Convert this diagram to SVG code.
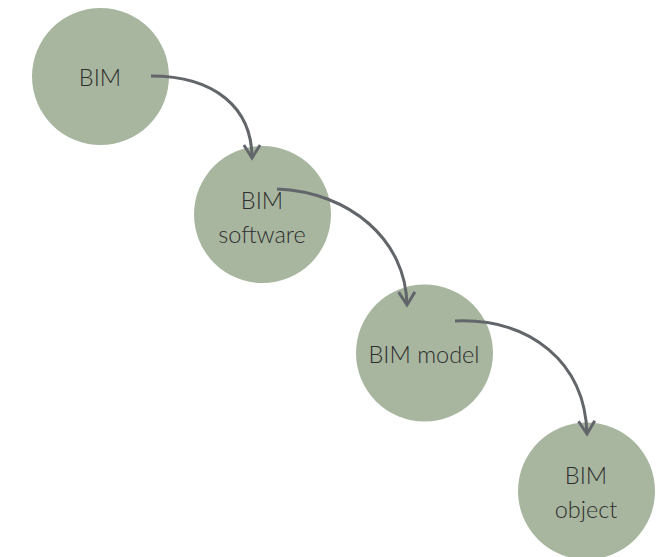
<svg xmlns="http://www.w3.org/2000/svg" width="669" height="557" viewBox="0 0 669 557">
<defs>
<style>
.n{fill:#a8b6a0}
.t{font-family:Lato,"Liberation Sans",sans-serif;font-weight:300;font-size:23.5px;fill:#2e2e2e;text-anchor:middle}
.c{fill:none;stroke:#62666b;stroke-width:3;marker-end:url(#ah)}
</style>
<marker id="ah" viewBox="0 0 12 12" refX="10" refY="6" markerWidth="6.5" markerHeight="6.5" orient="auto" markerUnits="strokeWidth">
<path d="M2,1 L10,6 L2,11" fill="none" stroke="#62666b" stroke-width="1.8"/>
</marker>
</defs>
<rect width="669" height="557" fill="#fff"/>
<g id="n1"><circle class="n" cx="100.5" cy="76.5" r="68.5"/><text class="t" x="100" y="86">BIM</text></g>
<g id="n2"><circle class="n" cx="262.5" cy="214.5" r="68.5"/><text class="t" x="262" y="209">BIM</text><text class="t" x="262" y="243">software</text></g>
<g id="n3"><circle class="n" cx="424.5" cy="353" r="68.5"/><text class="t" x="424" y="363">BIM model</text></g>
<g id="n4"><circle class="n" cx="586.5" cy="491" r="68.5"/><text class="t" x="586" y="484">BIM</text><text class="t" x="586" y="518">object</text></g>
<g id="connectors">
<path class="c" d="M151,76 C215,76 252,108 252,158"/>
<path class="c" d="M277,189 C350,192 406,240 407,305"/>
<path class="c" d="M455,321 C530,318 585,362 587,434"/>
</g>
</svg>
